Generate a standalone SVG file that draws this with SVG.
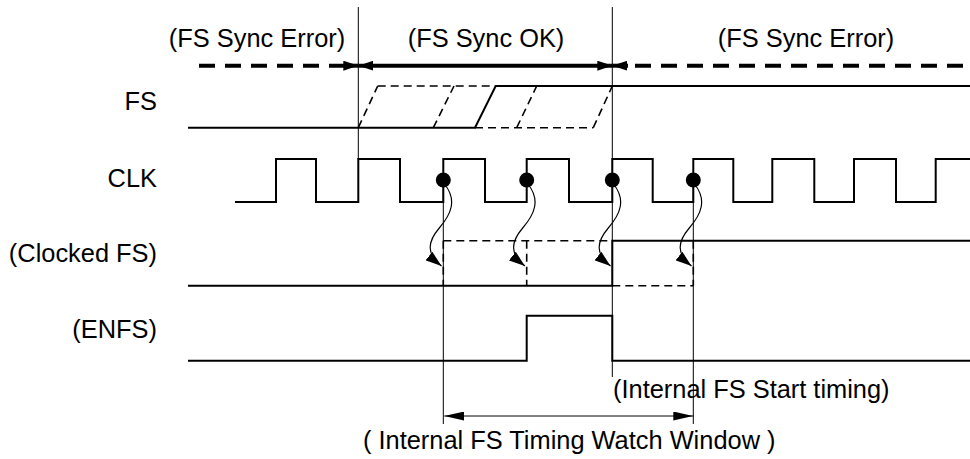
<svg xmlns="http://www.w3.org/2000/svg" width="970" height="459" viewBox="0 0 970 459">
<style>
text{font-family:"Liberation Sans",Arial,Helvetica,sans-serif;font-size:25.4px;fill:#000}
.lbl{text-anchor:end}
.sig{fill:none;stroke:#000;stroke-width:2}
.dsig{fill:none;stroke:#000;stroke-width:1.6;stroke-dasharray:8 5}
.guide{fill:none;stroke:#000;stroke-width:1}
.thick{fill:none;stroke:#000;stroke-width:4}
.thickd{fill:none;stroke:#000;stroke-width:4;stroke-dasharray:16 10}
.curve{fill:none;stroke:#000;stroke-width:1.2}
</style>
<defs>
<marker id="ah" viewBox="0 0 15 10" refX="15" refY="5" markerWidth="15" markerHeight="10" markerUnits="userSpaceOnUse" orient="auto-start-reverse"><path d="M0,0 L15,5 L0,10 z" fill="#000"/></marker>
<marker id="ahs" viewBox="0 0 16 11" refX="16" refY="5.5" markerWidth="16" markerHeight="11" markerUnits="userSpaceOnUse" orient="auto"><path d="M0,0 L16,5.5 L0,11 z" fill="#000"/></marker>
<marker id="ahw" viewBox="0 0 20 9" refX="20" refY="4.5" markerWidth="20" markerHeight="9" markerUnits="userSpaceOnUse" orient="auto-start-reverse"><path d="M0,0 L20,4.5 L0,9 z" fill="#000"/></marker>
</defs>

<g id="guides">
<line class="guide" x1="358.3" y1="7" x2="358.3" y2="160"/>
<line class="guide" x1="612.3" y1="7" x2="612.3" y2="377"/>
<line class="guide" x1="443.3" y1="180" x2="443.3" y2="424"/>
<line class="guide" x1="693.3" y1="180" x2="693.3" y2="424"/>
</g>

<g id="sync-status">
<text x="257" y="47" text-anchor="middle">(FS Sync Error)</text>
<text x="486" y="47" text-anchor="middle">(FS Sync OK)</text>
<text x="806" y="47" text-anchor="middle">(FS Sync Error)</text>
</g>

<g id="labels">
<text class="lbl" x="157" y="110">FS</text>
<text class="lbl" x="157" y="187">CLK</text>
<text class="lbl" x="157" y="262">(Clocked FS)</text>
<text class="lbl" x="157" y="338">(ENFS)</text>
</g>

<g id="fs">
<polyline class="sig" points="188,127.7 475,127.7 495.7,86 970,86"/>
<line class="dsig" x1="475" y1="127.7" x2="593.3" y2="127.7"/>
<line class="dsig" x1="377.7" y1="86" x2="495.7" y2="86"/>
<line class="dsig" x1="358.3" y1="127.7" x2="377.7" y2="86"/>
<line class="dsig" x1="433.3" y1="127.7" x2="454" y2="86"/>
<line class="dsig" x1="516.7" y1="127.7" x2="536.7" y2="86"/>
<line class="dsig" x1="593.3" y1="127.7" x2="612.3" y2="86"/>
</g>

<g id="clk">
<polyline class="sig" points="235,202 276,202 276,159 316,159 316,202 358.3,202 358.3,159 400,159 400,202 443.3,202 443.3,159 485,159 485,202 526.7,202 526.7,159 569,159 569,202 612.3,202 612.3,159 652.7,159 652.7,202 693.3,202 693.3,159 733.3,159 733.3,202 772.3,202 772.3,159 814.3,159 814.3,202 854,202 854,159 896,159 896,202 935.7,202 935.7,159 970,159"/>
</g>

<g id="clocked-fs">
<polyline class="sig" points="188,285.7 612.3,285.7 612.3,240.7 970,240.7"/>
<line class="dsig" x1="443.3" y1="240.7" x2="612.3" y2="240.7"/>
<line class="dsig" x1="612.3" y1="285.7" x2="693.3" y2="285.7"/>
<line class="dsig" x1="443.3" y1="240.7" x2="443.3" y2="285.7"/>
<line class="dsig" x1="526.7" y1="240.7" x2="526.7" y2="285.7"/>
<line class="dsig" x1="693.3" y1="240.7" x2="693.3" y2="285.7"/>
</g>

<g id="enfs">
<polyline class="sig" points="188,360.7 526.7,360.7 526.7,315.7 612.3,315.7 612.3,360.7 970,360.7"/>
</g>

<g id="connectors">
<line class="thickd" x1="199" y1="65.7" x2="343" y2="65.7"/>
<line class="thick" x1="343" y1="65.7" x2="358.3" y2="65.7" marker-end="url(#ah)"/>
<line class="thick" x1="358.3" y1="65.7" x2="612.3" y2="65.7" marker-start="url(#ah)" marker-end="url(#ah)"/>
<line class="thick" x1="612.3" y1="65.7" x2="628" y2="65.7" marker-start="url(#ah)"/>
<line class="thickd" x1="635" y1="65.7" x2="970" y2="65.7"/>
<g id="clock-dots">
<circle cx="443.3" cy="180" r="7.5"/>
<circle cx="526.7" cy="180" r="7.5"/>
<circle cx="612.3" cy="180" r="7.5"/>
<circle cx="693.3" cy="180" r="7.5"/>
</g>
<path class="curve" marker-end="url(#ahs)" d="M444.5,184 C457.3,200 451.3,214 439.3,228 C427.3,242 426.3,254 441.5,266"/>
<path class="curve" marker-end="url(#ahs)" d="M527.9,184 C540.7,200 534.7,214 522.7,228 C510.7,242 509.7,254 524.9,266"/>
<path class="curve" marker-end="url(#ahs)" d="M613.5,184 C626.3,200 620.3,214 608.3,228 C596.3,242 595.3,254 610.5,266"/>
<path class="curve" marker-end="url(#ahs)" d="M694.5,184 C707.3,200 701.3,214 689.3,228 C677.3,242 676.3,254 691.5,266"/>
<line class="guide" x1="444.3" y1="416" x2="693.3" y2="416" marker-start="url(#ahw)" marker-end="url(#ahw)"/>
</g>

<g id="annotations">
<text x="613" y="398">(Internal FS Start timing)</text>
<text x="363" y="449">( Internal FS Timing Watch Window )</text>
</g>
</svg>
